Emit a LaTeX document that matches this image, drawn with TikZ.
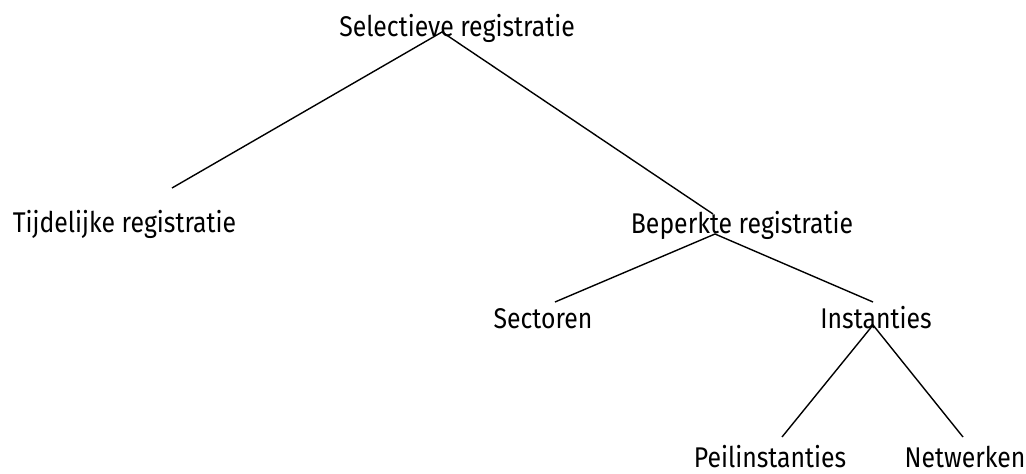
\documentclass[tikz,border=0pt]{standalone}
\usepackage{fontspec}
\setmainfont[FakeStretch=0.87]{Fira Sans}
\usepackage{tikz}
\usetikzlibrary{calc}
\tikzstyle{begrip} = [
    anchor = base,
    inner sep = 0pt,
    font = \fontsize{28.5}{34}\selectfont,
]
\tikzstyle{tak} = [
    line width = 1.4pt,
]

\begin{document}
\begin{tikzpicture} [x = 1pt, y = -1pt]
    \useasboundingbox (0, 0) rectangle (1026, 474);

    \node (Selectieve) [begrip] at (457, 36) {Selectieve registratie};
    \node (Tijdelijke) [begrip] at (124.5, 232) {Tijdelijke registratie};
    \node (Beperkte) [begrip] at (742, 233) {Beperkte registratie};
    \node (Sectoren) [begrip] at (543, 328) {Sectoren};
    \node (Instanties) [begrip] at (876, 328) {Instanties};
    \node (Peilinstanties) [begrip] at (770, 467) {Peilinstanties};
    \node (Netwerken) [begrip] at (965, 467) {Netwerken};

    \draw[tak] ($(Tijdelijke.base) + (47.5, -44)$) -- ($(Selectieve.base) + (-15, -4)$) -- ($(Beperkte.base) + (-29, -19)$);
    \draw[tak] ($(Sectoren.base) + (12, -26)$) -- ($(Beperkte.base) + (-27, 1)$) -- ($(Instanties.base) + (-3, -26)$);
    \draw[tak] ($(Peilinstanties.base) + (12, -30)$) -- ($(Instanties.base) + (-3, -3)$) -- ($(Netwerken.base) + (-2, -30)$);
\end{tikzpicture}
\end{document}
